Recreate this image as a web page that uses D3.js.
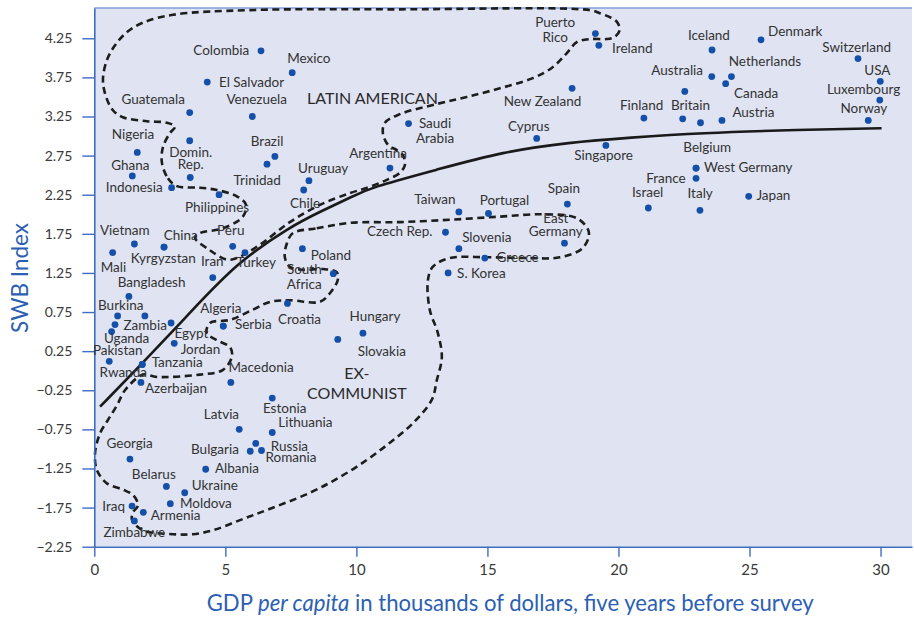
<!DOCTYPE html>
<html>
<head>
<meta charset="utf-8">
<script src="https://cdn.jsdelivr.net/npm/d3@7"></script>
<style>
  html, body { margin: 0; padding: 0; background: #fff; }
  svg { display: block; }
</style>
</head>
<body>
<svg id="chart" width="914" height="617"></svg>
<script>
// ── Data ────────────────────────────────────────────────────────
const countries = [
  "Colombia", "Mexico", "El Salvador", "Guatemala", "Venezuela", "", "Domin.\nRep.", "Nigeria", "Ghana", "Indonesia",
  "Brazil", "Trinidad", "Philippines", "Puerto\nRico", "Ireland", "New Zealand", "Saudi\nArabia", "Cyprus", "Argentina", "Uruguay",
  "Chile", "Singapore", "Iceland", "Denmark", "Switzerland", "USA", "Luxembourg", "Norway", "Australia", "Netherlands",
  "Canada", " ", "Finland", "Britain", "  ", "Austria", "Belgium", "West Germany", "France", "Israel",
  "Italy", "Japan", "Vietnam", "Mali", "China", "Kyrgyzstan", "Peru", "Turkey", "Iran", "Bangladesh",
  "Burkina", "   ", "Uganda", "Zambia", "Egypt", "Jordan", "Algeria", "Serbia", "Croatia", "Pakistan",
  "Tanzania", "Rwanda", "Azerbaijan", "Macedonia", "Taiwan", "Portugal", "Spain", "Czech Rep.", "Slovenia", "Greece",
  "S. Korea", "East\nGermany", "Poland", "South\nAfrica", "Hungary", "Slovakia", "Estonia", "Latvia", "Lithuania", "Russia",
  "Bulgaria", "Romania", "Georgia", "Albania", "Belarus", "Ukraine", "Moldova", "Iraq", "Armenia", "Zimbabwe"
];
// GDP per capita (thousands of dollars)
const gdp = [
  6.36, 7.55, 4.31, 3.64, 6.03, 3.64, 3.66, 1.64, 1.45, 2.95,
  6.89, 6.59, 4.76, 19.12, 19.25, 18.23, 11.99, 16.88, 11.28, 8.19,
  7.99, 19.52, 23.57, 25.44, 29.14, 29.99, 29.97, 29.53, 23.56, 24.31,
  24.09, 22.53, 20.97, 22.45, 23.13, 23.95, 22.96, 22.96, 22.96, 21.14,
  23.11, 24.97, 1.53, 0.70, 2.66, 2.66, 5.28, 5.75, 4.52, 1.32,
  0.89, 0.79, 0.66, 1.93, 2.93, 3.05, 4.92, 4.92, 7.37, 0.57,
  1.83, 1.83, 1.78, 5.21, 13.91, 15.04, 18.05, 13.40, 13.91, 14.90,
  13.50, 17.94, 7.94, 9.12, 10.25, 9.29, 6.79, 5.53, 6.79, 6.16,
  5.95, 6.38, 1.36, 4.25, 2.75, 3.45, 2.90, 1.44, 1.87, 1.53
];
// SWB index
const swb = [
  4.09, 3.81, 3.69, 3.30, 3.25, 2.94, 2.47, 2.79, 2.49, 2.34,
  2.74, 2.64, 2.25, 4.31, 4.16, 3.61, 3.16, 2.97, 2.59, 2.43,
  2.31, 2.88, 4.10, 4.23, 3.99, 3.70, 3.46, 3.20, 3.76, 3.76,
  3.67, 3.57, 3.23, 3.22, 3.17, 3.20, 2.59, 2.59, 2.46, 2.08,
  2.05, 2.23, 1.62, 1.51, 1.58, 1.58, 1.59, 1.51, 1.19, 0.95,
  0.70, 0.59, 0.50, 0.70, 0.61, 0.35, 0.57, 0.57, 0.86, 0.12,
  0.08, 0.08, -0.15, -0.15, 2.03, 2.01, 2.13, 1.77, 1.56, 1.44,
  1.25, 1.63, 1.56, 1.24, 0.48, 0.40, -0.35, -0.75, -0.79, -0.93,
  -1.03, -1.02, -1.13, -1.26, -1.48, -1.56, -1.70, -1.73, -1.81, -1.92
];

const xTicks = [0, 5, 10, 15, 20, 25, 30];
const yTicks = [4.25, 3.75, 3.25, 2.75, 2.25, 1.75, 1.25, 0.75, 0.25, -0.25, -0.75, -1.25, -1.75, -2.25];

// fitted curve
const trendLine = [
  [0.22, -0.46], [1.82, 0.09], [3.65, 0.74], [5.44, 1.38], [7.46, 1.84], [8.72, 2.05],
  [9.75, 2.21], [10.51, 2.34], [13.07, 2.57], [15.59, 2.80], [18.14, 2.92], [20.43, 2.98],
  [23.10, 3.04], [26.91, 3.08], [30.04, 3.10]
];

// hand-drawn group outlines (closed)
const latinAmerican = [
  [2.58, 2.66], [2.81, 2.46], [3.15, 2.36], [4.03, 2.34], [4.68, 2.31], [5.44, 2.23], [5.79, 2.12],
  [5.67, 1.97], [4.91, 1.82], [4.03, 1.76], [3.84, 1.70], [4.41, 1.54], [5.06, 1.42], [5.44, 1.44],
  [6.32, 1.61], [7.46, 1.90], [8.61, 2.12], [9.75, 2.27], [10.51, 2.35], [11.16, 2.44], [11.66, 2.53],
  [11.85, 2.63], [11.77, 2.76], [11.54, 2.82], [11.20, 2.89], [11.01, 3.04], [11.09, 3.17], [11.66, 3.28],
  [13.07, 3.41], [14.21, 3.50], [15.47, 3.61], [16.73, 3.74], [17.49, 3.88], [18.03, 4.06], [18.41, 4.20],
  [18.91, 4.24], [19.55, 4.24], [19.86, 4.27], [20.05, 4.36], [19.94, 4.46], [19.67, 4.52], [19.29, 4.57],
  [18.91, 4.61], [11.66, 4.62], [5.94, 4.61], [3.00, 4.55], [1.86, 4.45], [1.25, 4.33], [0.79, 4.16],
  [0.48, 3.97], [0.33, 3.72], [0.45, 3.50], [0.71, 3.33], [1.09, 3.24], [2.01, 3.19], [2.77, 3.17],
  [3.08, 3.12], [2.89, 3.04], [2.62, 2.86]
];
const exCommunist = [
  [7.58, 1.76], [8.49, 1.82], [9.75, 1.89], [11.66, 1.90], [13.57, 1.93], [15.47, 1.97], [17.11, 2.00],
  [18.41, 1.95], [18.87, 1.77], [18.64, 1.57], [17.76, 1.45], [16.50, 1.44], [14.98, 1.45], [13.57, 1.44],
  [12.92, 1.33], [12.73, 1.16], [12.80, 0.78], [13.11, 0.48], [13.26, 0.17], [13.07, -0.12], [12.88, -0.37],
  [12.16, -0.67], [11.28, -0.92], [10.40, -1.14], [9.37, -1.36], [8.23, -1.56], [6.59, -1.78], [5.56, -1.91],
  [4.53, -2.04], [3.76, -2.09], [3.00, -2.09], [1.86, -2.04], [1.44, -1.91], [1.48, -1.81], [1.67, -1.72],
  [1.48, -1.59], [1.09, -1.52], [0.48, -1.44], [0.10, -1.27], [0.03, -1.05], [0.22, -0.80], [0.52, -0.63],
  [0.87, -0.44], [1.17, -0.25], [1.86, -0.05], [2.39, -0.08], [4.03, -0.05], [4.91, 0.01], [5.25, 0.18],
  [5.18, 0.30], [4.68, 0.39], [4.29, 0.48], [4.41, 0.61], [5.18, 0.65], [6.05, 0.78], [6.70, 0.88],
  [7.46, 0.90], [8.61, 0.88], [8.99, 0.99], [9.29, 1.16], [9.25, 1.26], [8.72, 1.30], [7.96, 1.29],
  [7.46, 1.33], [7.27, 1.45], [7.35, 1.63]
];

const groupNames = ["LATIN AMERICAN", "EX-\nCOMMUNIST"];

// ── Layout (label offsets in px from the dot: dx, dy, anchor, line height) ──
const labelPos = {
  "Colombia": [-11.7, 4, "end"], "Mexico": [-5, -9.4, "start"], "El Salvador": [11.7, 4.7, "start"],
  "Guatemala": [-4.7, -8.7, "end"], "Venezuela": [4.4, -12.3, "middle"], "Domin.\nRep.": [0.5, -20.6, "middle", 11.6],
  "Nigeria": [-4.3, -13, "middle"], "Ghana": [-2, -6.4, "middle"], "Indonesia": [-9, 4.4, "end"],
  "Brazil": [-7.8, -10, "middle"], "Trinidad": [-9.8, 20.7, "middle"], "Philippines": [-2, 17.3, "middle"],
  "Puerto\nRico": [-40.2, -7, "middle", 15], "Ireland": [13.3, 7.6, "start"], "New Zealand": [-29.6, 18, "middle"],
  "Saudi\nArabia": [26.5, 4.4, "middle", 15], "Cyprus": [-8, -7.3, "middle"], "Argentina": [-11.8, -10.6, "middle"],
  "Uruguay": [39.3, -7.7, "end"], "Chile": [1.3, 18.3, "middle"], "Singapore": [-2.3, 15, "middle"],
  "Iceland": [-3.1, -10, "middle"], "Denmark": [7, -4, "start"], "Switzerland": [-1.3, -6.6, "middle"],
  "USA": [-2.9, -6, "middle"], "Luxembourg": [-16.2, -6, "middle"], "Norway": [-4.4, -7.4, "middle"],
  "Australia": [-8.7, -1.7, "end"], "Netherlands": [-2.7, -10.7, "start"], "Canada": [8.3, 14.3, "start"],
  "Finland": [-2.3, -8.3, "middle"], "Britain": [7.8, -9, "middle"], "Austria": [10.4, -3.6, "start"],
  "Belgium": [11.2, -16.3, "middle"], "West Germany": [8, 3.7, "start"], "France": [-10.3, 4.4, "end"],
  "Israel": [-0.7, -11.3, "middle"], "Italy": [0.2, -12, "middle"], "Japan": [7.7, 3.7, "start"],
  "Vietnam": [-9.6, -9.3, "middle"], "Mali": [0.8, 19, "middle"], "China": [16.7, -7.3, "middle"],
  "Kyrgyzstan": [-0.7, 15.4, "middle"], "Peru": [-1.9, -11.7, "middle"], "Iran": [-0.5, -11.7, "middle"],
  "Turkey": [11.3, 14.6, "middle"], "Bangladesh": [22.7, -9.3, "middle"], "Burkina": [3.1, -6.3, "middle"],
  "Zambia": [0.3, 13.7, "middle"], "Uganda": [15, 11.6, "middle"], "Egypt": [20.3, 15, "middle"],
  "Jordan": [26.2, 10.7, "middle"], "Algeria": [-2.5, -13.4, "middle"], "Serbia": [11.7, 3.3, "start"],
  "Croatia": [12, 20.6, "middle"], "Pakistan": [8.5, -6, "middle"], "Tanzania": [9.4, 2.4, "start"],
  "Rwanda": [-19, 12.4, "middle"], "Azerbaijan": [4, 11, "start"], "Macedonia": [30.2, -10.4, "middle"],
  "Taiwan": [-24, -8.4, "middle"], "Portugal": [16, -8.3, "middle"], "Spain": [-3.5, -11, "middle"],
  "Czech Rep.": [-13, 4, "end"], "Slovenia": [3.3, -6.3, "start"], "Greece": [11.7, 3.7, "start"],
  "S. Korea": [9, 4.6, "start"], "East\nGermany": [-8.7, -20.7, "middle", 13.4], "Poland": [8.4, 11, "start"],
  "South\nAfrica": [-29, 0.7, "middle", 15], "Hungary": [12, -12.6, "middle"], "Slovakia": [44, 16.4, "middle"],
  "Estonia": [12.4, 14.6, "middle"], "Latvia": [-17.8, -10, "middle"], "Lithuania": [6, -5.6, "start"],
  "Russia": [15, 7.7, "start"], "Bulgaria": [-11.3, 2.7, "end"], "Romania": [4, 11.4, "start"],
  "Georgia": [-0.3, -10.7, "middle"], "Albania": [9.3, 4, "start"], "Belarus": [-12.6, -7.7, "middle"],
  "Ukraine": [7, -2.3, "start"], "Moldova": [9.7, 4, "start"], "Iraq": [-7, 4.7, "end"],
  "Armenia": [7.4, 7.7, "start"], "Zimbabwe": [-0.1, 16.3, "middle"]
};
// group captions, in data units
const groupPos = [[8.12, 3.41, "start", 0], [10.02, -0.10, "middle", 20]];

// ── Chart ───────────────────────────────────────────────────────
const FONT = "Lato, 'Open Sans', sans-serif";
const BLUE = "#3d6cc1";
const svg = d3.select("#chart");

const x = d3.scaleLinear().domain([0, 31.2]).range([94.3, 912]);
const y = d3.scaleLinear().domain([-2.25, 4.637]).range([546.7, 8]);

// plot background
svg.append("rect")
  .attr("x", x(0)).attr("y", y(4.637))
  .attr("width", x(31.2) - x(0)).attr("height", y(-2.25) - y(4.637))
  .attr("fill", "#dfe3f2");
svg.append("line")
  .attr("x1", x(0)).attr("x2", x(31.2)).attr("y1", y(4.637)).attr("y2", y(4.637))
  .attr("stroke", "#7f9fd8").attr("stroke-width", 1.5);

// group outlines
const outline = d3.line().x(d => x(d[0])).y(d => y(d[1])).curve(d3.curveCatmullRomClosed.alpha(0.5));
[latinAmerican, exCommunist].forEach(path => {
  svg.append("path").attr("d", outline(path))
    .attr("fill", "none").attr("stroke", "#1d1d1d")
    .attr("stroke-width", 2.6).attr("stroke-dasharray", "7,4.5");
});

// trend curve
const trend = d3.line().x(d => x(d[0])).y(d => y(d[1])).curve(d3.curveBasis);
svg.append("path").attr("d", trend(trendLine))
  .attr("fill", "none").attr("stroke", "#1a1a1a").attr("stroke-width", 2.6);

// axes
const gx = svg.append("g").attr("transform", `translate(0,${y(-2.25)})`)
  .call(d3.axisBottom(x).tickValues(xTicks).tickSize(10).tickSizeOuter(0).tickPadding(8));
gx.attr("font-family", FONT).attr("font-size", 15);
gx.select(".domain").attr("stroke", BLUE).attr("stroke-width", 1.6);
gx.selectAll(".tick line").attr("stroke", BLUE).attr("stroke-width", 1.4);
gx.selectAll(".tick text").attr("fill", "#3a3a3a");

const gy = svg.append("g").attr("transform", `translate(${x(0)},0)`)
  .call(d3.axisLeft(y).tickValues(yTicks).tickSize(12).tickSizeOuter(0).tickPadding(10).tickFormat(d3.format(".2f")));
gy.attr("font-family", FONT).attr("font-size", 14);
gy.select(".domain").attr("stroke", BLUE).attr("stroke-width", 1.6);
gy.selectAll(".tick line").attr("stroke", BLUE).attr("stroke-width", 1.4);
gy.selectAll(".tick text").attr("fill", "#3a3a3a");

// axis titles
const xt = svg.append("text")
  .attr("x", 206.7).attr("y", 611)
  .attr("font-family", FONT).attr("font-size", 23).attr("fill", "#2c5fb3")
  .attr("textLength", 607).attr("lengthAdjust", "spacingAndGlyphs");
xt.append("tspan").text("GDP ");
xt.append("tspan").attr("font-style", "italic").text("per capita");
xt.append("tspan").text(" in thousands of dollars, five years before survey");

svg.append("text")
  .attr("transform", "translate(28,278) rotate(-90)")
  .attr("text-anchor", "middle")
  .attr("font-family", FONT).attr("font-size", 24).attr("fill", "#2c5fb3")
  .attr("textLength", 110).attr("lengthAdjust", "spacingAndGlyphs")
  .text("SWB Index");

// group captions
groupNames.forEach((name, i) => {
  const [gxv, gyv, anchor, lh] = groupPos[i];
  const t = svg.append("text")
    .attr("x", x(gxv)).attr("y", y(gyv))
    .attr("text-anchor", anchor)
    .attr("font-family", FONT).attr("font-size", 16).attr("fill", "#2a2a2a");
  name.split("\n").forEach((line, k) => {
    t.append("tspan").attr("x", x(gxv)).attr("dy", k === 0 ? 0 : lh).text(line);
  });
});

// dots
const points = countries.map((name, i) => ({ name, gdp: gdp[i], swb: swb[i] }));
svg.append("g").selectAll("circle")
  .data(points)
  .enter().append("circle")
  .attr("cx", d => x(d.gdp))
  .attr("cy", d => y(d.swb))
  .attr("r", 3.4)
  .attr("fill", "#1550a8");

// country labels
const lg = svg.append("g").attr("font-family", FONT).attr("font-size", 13.5).attr("fill", "#333");
points.forEach(d => {
  const p = labelPos[d.name];
  if (!p) return;
  const [dx, dy, anchor, lh] = p;
  const px = x(d.gdp) + dx, py = y(d.swb) + dy;
  const t = lg.append("text").attr("x", px).attr("y", py).attr("text-anchor", anchor);
  d.name.split("\n").forEach((line, k) => {
    t.append("tspan").attr("x", px).attr("dy", k === 0 ? 0 : lh).text(line);
  });
});
</script>
</body>
</html>
